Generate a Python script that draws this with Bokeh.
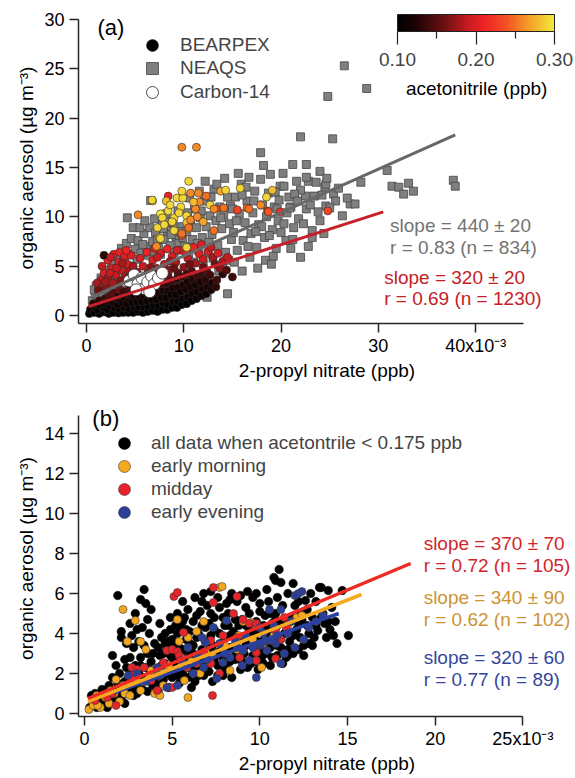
from bokeh.plotting import figure
from bokeh.layouts import column
from bokeh.models import (ColumnDataSource, LinearColorMapper, ColorBar, FixedTicker,
                          PrintfTickFormatter, Label, Legend, LegendItem)
from bokeh.embed import file_html
from bokeh.resources import INLINE

FONT = "Liberation Sans"

# ---------------- Panel (a) data (x in 10^-3 ppb, y in ug m-3, acetonitrile ppb) ----------------
bearpex_dark = [
    (0.3,0.2,.10),(0.4,0.6,.11),(0.8,0.3,.10),(0.9,0.8,.11),(0.7,1.2,.13),
    (1.3,0.2,.10),(1.2,0.6,.10),(1.4,1.0,.11),(1.3,1.5,.13),
    (1.8,0.35,.10),(1.9,0.7,.11),(1.7,1.2,.12),(1.9,1.7,.14),
    (2.3,0.2,.10),(2.2,0.6,.10),(2.4,1.0,.11),(2.3,1.5,.12),(2.4,2.0,.15),
    (2.8,0.3,.10),(2.9,0.8,.11),(2.7,1.3,.12),(2.9,1.8,.13),(2.8,2.3,.15),
    (3.3,0.25,.10),(3.4,0.6,.10),(3.2,1.1,.11),(3.4,1.6,.12),(3.3,2.1,.13),(3.4,2.6,.16),
    (3.8,0.3,.10),(3.9,0.8,.11),(3.7,1.3,.11),(3.9,1.8,.12),(3.8,2.4,.14),
    (4.3,0.3,.10),(4.4,0.7,.10),(4.2,1.2,.11),(4.4,1.7,.12),(4.3,2.2,.13),(4.4,2.8,.15),
    (4.8,0.3,.10),(4.9,0.8,.11),(4.7,1.3,.11),(4.9,1.9,.12),(4.8,2.5,.13),(4.9,3.1,.16),
    (5.3,0.4,.10),(5.4,0.9,.10),(5.2,1.4,.11),(5.4,2.0,.12),(5.3,2.6,.14),
    (5.8,0.3,.10),(5.9,0.8,.11),(5.7,1.4,.11),(5.9,2.0,.12),(5.8,2.7,.13),(5.9,3.3,.15),
    (6.3,0.4,.10),(6.4,0.9,.10),(6.2,1.5,.11),(6.4,2.1,.12),(6.3,2.8,.13),(6.4,3.5,.16),
    (6.8,0.5,.10),(6.9,1.0,.11),(6.7,1.6,.11),(6.9,2.2,.12),(6.8,2.9,.14),
    (7.3,0.4,.10),(7.4,1.0,.10),(7.2,1.6,.11),(7.4,2.3,.12),(7.3,3.0,.13),(7.4,3.7,.15),
    (7.8,0.6,.10),(7.9,1.2,.11),(7.7,1.8,.11),(7.9,2.5,.12),(7.8,3.2,.14),
    (8.3,0.6,.10),(8.4,1.1,.10),(8.2,1.8,.11),(8.4,2.5,.12),(8.3,3.3,.13),(8.4,4.0,.16),
    (8.8,0.8,.10),(8.9,1.4,.11),(8.7,2.1,.11),(8.9,2.8,.12),(8.8,3.5,.14),
    (9.3,0.8,.10),(9.4,1.4,.10),(9.2,2.1,.11),(9.4,2.9,.12),(9.3,3.7,.13),(9.4,4.3,.15),
    (9.8,1.1,.10),(9.9,1.7,.11),(9.7,2.4,.11),(9.9,3.1,.12),(9.8,3.9,.14),
    (10.3,1.2,.10),(10.4,1.9,.11),(10.2,2.6,.12),(10.4,3.4,.12),(10.3,4.2,.14),
    (10.8,1.5,.10),(10.9,2.2,.11),(10.7,2.9,.12),(10.9,3.7,.13),(10.8,4.5,.15),
    (11.3,1.7,.11),(11.4,2.4,.11),(11.2,3.1,.12),(11.4,3.9,.14),
    (11.8,2.0,.11),(11.9,2.7,.12),(11.7,3.4,.12),(11.9,4.2,.14),
    (12.3,2.2,.11),(12.4,2.9,.12),(12.2,3.6,.13),(12.4,4.4,.15),
    (12.8,2.6,.12),(12.9,3.3,.12),(12.7,4.1,.14),
    (13.3,2.9,.13),(13.4,3.6,.14),(15.0,3.9,.14),(14.0,4.2,.13),
]
bearpex_red = [
    (1.5,3.6,.19),(1.8,4.3,.20),(2.2,3.8,.18),(2.6,4.8,.20),(3.0,4.1,.19),(3.3,5.4,.20),
    (2.2,5.6,.21),(3.6,4.6,.19),(4.0,3.9,.18),(2.8,6.2,.20),(3.4,6.4,.21),(1.6,5.0,.19),
    (4.2,5.2,.20),(3.9,6.0,.20),(2.0,2.9,.17),(2.7,3.3,.18),(1.8,6.1,.13),(1.2,2.6,.16),
    (1.1,3.3,.18),(2.5,5.9,.19),(3.1,4.8,.19),(3.7,5.3,.18),(4.4,4.5,.18),(2.4,4.3,.19),
    (3.5,3.5,.17),(1.9,3.4,.18),(4.6,6.1,.20),(4.1,6.6,.21),
    (5.2,4.4,.18),(5.8,5.0,.19),(6.3,4.3,.17),(6.8,5.6,.20),(7.2,4.8,.18),(7.6,6.3,.20),
    (8.0,5.2,.19),(8.5,4.6,.17),(8.8,6.0,.20),(9.2,5.4,.18),(9.6,6.6,.21),(10.0,4.9,.17),
    (10.4,5.8,.19),(10.8,6.8,.21),(11.2,5.3,.18),(11.6,6.2,.20),(12.0,5.7,.19),(12.5,6.5,.20),
    (13.0,5.9,.18),(13.5,6.3,.20),(14.0,5.5,.18),(13.7,4.8,.17),(14.5,5.9,.19),(8.3,6.75,.21),
    (9.3,6.6,.20),(11.0,6.9,.21),(5.5,5.8,.20),(6.2,6.4,.21),(7.0,6.8,.20),(4.8,5.0,.18),
    (6.0,3.7,.16),(7.6,4.1,.16),(9.0,4.8,.16),(10.6,5.2,.16),(12.0,4.9,.16),(13.2,5.2,.16),
    (14.4,4.6,.15),(12.8,6.9,.19),(10.2,6.3,.20),(8.6,5.5,.18),(7.3,5.9,.19),(5.4,3.9,.16),
    (6.6,4.9,.17),(11.8,7.2,.20),
]
bearpex_hot = [
    (9.8,17.05,.26),(11.3,17.05,.26),(10.5,13.6,.29),(8.4,12.1,.21),(6.8,11.6,.29),(5.3,10.2,.26),
    (8.2,11.6,.28),(9.3,11.9,.29),(9.9,11.9,.29),(10.7,12.4,.26),(11.5,12.4,.26),(12.3,12.1,.25),
    (11.6,11.5,.26),(12.7,11.2,.29),(13.8,12.6,.27),(14.3,12.7,.29),(15.8,12.9,.29),(19.1,12.7,.28),
    (18.5,12.0,.29),(17.9,11.2,.26),(16.5,10.9,.25),(15.5,10.7,.23),(14.1,10.9,.25),(13.3,10.8,.24),
    (11.2,10.8,.26),(11.0,11.5,.28),(9.7,11.0,.29),(8.4,10.6,.29),(7.6,10.3,.30),(7.8,9.9,.29),
    (9.0,9.9,.29),(8.8,9.5,.29),(10.3,10.1,.29),(10.3,9.4,.28),(10.5,8.8,.29),(10.7,9.7,.26),
    (11.4,10.0,.26),(7.3,8.9,.29),(9.0,8.6,.29),(9.8,8.1,.24),(7.5,7.9,.28),(7.2,7.0,.26),
    (10.3,6.9,.29),(13.1,8.6,.25),(18.6,10.6,.22),(19.9,10.5,.22),(18.7,10.5,.24),(24.8,10.6,.23),
    (16.7,10.8,.25),(13.1,10.8,.26),(9.8,12.6,.29),(9.8,8.3,.25),(10.5,8.9,.25),(7.6,7.8,.29),
    (6.75,11.7,.29),(8.0,9.2,.29),(9.5,10.4,.29),(8.6,11.2,.29),(12.0,9.5,.27),
]
neaqs = [
    (0.6,1.5),(0.9,2.2),(1.2,1.7),(1.4,2.7),(1.7,2.1),(1.9,3.3),(2.2,2.6),(2.4,3.8),(2.7,2.9),
    (2.9,4.4),(3.2,3.4),(3.4,5.0),(3.7,3.9),(3.9,5.6),(4.2,4.4),(4.4,6.2),(4.7,5.0),(1.0,3.0),
    (2.0,4.6),(3.0,5.9),(3.6,6.8),(4.1,7.3),(4.6,7.8),(4.2,9.9),(4.8,8.9),(1.5,3.8),(2.6,5.3),
    (0.8,2.6),(2.3,1.8),(3.5,2.6),
    (5.0,6.7),(5.3,7.6),(5.6,6.3),(5.9,8.3),(6.2,7.0),(6.5,8.9),(6.6,11.65),(6.8,7.5),(7.1,8.4),
    (7.4,6.8),(7.7,9.2),(8.0,7.7),(8.3,8.6),(8.6,7.1),(8.9,9.4),(9.2,8.0),(9.5,7.3),(9.8,9.0),
    (5.5,8.9),(6.0,9.6),(7.0,9.8),(8.2,10.3),(9.4,10.6),(5.2,5.7),(6.4,6.1),(7.6,6.2),(9.0,6.4),
    (9.9,7.9),(5.8,7.2),(7.3,7.7),(8.7,8.2),(6.9,6.5),(8.4,9.5),(9.6,8.5),(7.9,8.8),
    (10.1,7.0),(10.3,8.5),(10.5,6.2),(10.7,9.6),(10.9,7.7),(11.1,10.8),(11.3,8.9),(11.5,6.6),
    (11.7,9.9),(11.9,7.9),(12.1,11.6),(12.3,9.0),(12.5,6.3),(12.7,10.1),(12.9,8.2),(13.1,12.8),
    (13.3,9.6),(13.5,7.1),(13.7,11.0),(13.9,8.8),(14.1,10.2),(14.3,6.4),(14.5,12.0),(14.7,9.3),
    (14.9,7.7),(12.2,13.6),(13.4,13.3),(14.2,13.9),(14.8,11.1),(10.6,11.9),(11.6,12.6),(12.4,1.85),
    (14.5,2.2),(11.0,5.4),(12.0,5.2),(13.0,5.8),(14.0,5.0),(14.6,5.6),(13.6,4.5),(10.4,10.4),
    (11.8,10.6),(12.8,12.0),(13.8,9.9),(12.6,7.4),(11.4,7.3),
    (15.1,8.4),(15.3,12.0),(15.5,6.6),(15.7,10.3),(15.9,13.3),(16.1,7.6),(16.3,9.4),(16.5,11.6),
    (16.7,14.0),(16.9,8.3),(17.1,10.4),(17.3,12.6),(17.5,6.9),(17.7,9.2),(17.9,13.8),(18.1,11.2),
    (18.3,7.9),(18.5,10.0),(18.7,12.4),(18.9,14.3),(19.1,8.7),(19.3,11.0),(19.5,6.8),(19.7,9.6),
    (19.9,13.1),(15.2,5.4),(16.0,4.5),(16.8,5.9),(17.6,4.8),(18.4,5.6),(19.2,6.0),(15.6,14.4),
    (16.4,13.0),(17.9,16.5),(18.2,15.2),(19.4,12.5),(15.0,10.8),(16.0,12.2),(17.2,11.6),(18.0,9.0),
    (18.8,8.1),(19.6,10.8),(15.4,9.6),(16.6,7.0),(17.4,8.5),
    (20.3,13.1),(19.8,11.7),(22.5,12.1),(23.4,12.1),(25.4,12.3),(25.6,11.6),(27.1,11.3),(27.6,11.3),
    (26.3,10.1),(24.5,13.0),(22.0,12.7),(21.0,11.0),(20.3,9.3),(21.3,8.9),(21.0,6.8),(22.0,5.9),
    (23.2,8.6),(23.2,7.9),(24.6,11.1),(28.2,13.5),(24.6,13.3),(20.6,10.4),(21.8,9.8),(22.6,10.8),
    (24.0,9.6),(20.8,12.0),(20.5,7.6),(21.6,13.6),(23.0,11.2),(20.2,14.4),(22.8,13.6),(21.4,12.3),
    (20.9,10.9),(21.7,11.6),(22.3,9.3),(23.8,10.5),(24.2,12.2),(25.0,10.9),(25.9,12.9),(26.8,11.9),
    (23.6,13.5),(21.2,7.7),(22.8,7.0),(20.0,8.4),(19.0,5.2),(24.4,8.3),
    (26.5,25.3),(28.8,23.0),(24.8,22.2),(22.0,18.1),(25.3,17.9),(21.2,15.3),(22.6,15.3),(22.6,14.0),
    (24.0,14.6),(24.7,13.9),(30.9,14.7),(31.4,13.1),(32.1,13.0),(32.6,12.3),(33.1,13.4),(33.6,12.6),
    (37.7,13.7),(37.9,13.1),
]
carbon14 = [(4.4,3.5),(4.9,4.1),(5.3,3.2),(5.7,3.8),(6.0,2.7),(6.3,3.4),(6.7,4.0),(7.0,3.2),
            (7.4,3.8),(5.1,2.6),(6.5,2.4),(7.8,4.3)]
fit_neaqs_x, fit_neaqs_y = [0.8, 37.9], [2.0, 18.3]
fit_bearpex_x, fit_bearpex_y = [0.2, 30.5], [0.9, 10.5]
xticks_a = [0, 10, 20, 30, 40]
yticks_a = [0, 5, 10, 15, 20, 25, 30]
cbar_ticks = [0.10, 0.20, 0.30]
cbar_minor = [0.15, 0.25]

# ---------------- Panel (b) data ----------------
all_low = [
    (0.3,0.3),(0.5,0.6),(0.7,0.3),(0.6,1.0),(0.9,0.7),(1.0,1.2),(0.4,0.9),
    (1.2,0.5),(1.3,0.9),(1.4,1.4),(1.5,0.7),(1.6,1.8),(1.7,1.1),(1.8,2.4),(1.9,0.8),(1.9,1.5),
    (2.0,2.0),(1.9,5.9),(2.1,4.1),(2.1,3.8),(1.6,2.9),
    (2.2,1.0),(2.3,1.6),(2.4,2.3),(2.5,1.3),(2.6,2.8),(2.7,1.9),(2.8,0.9),(2.8,3.3),(2.9,2.4),
    (3.0,1.5),(2.6,4.5),(2.9,5.0),(3.0,4.2),(2.4,3.5),(2.7,3.9),
    (3.1,2.0),(3.2,2.8),(3.3,1.2),(3.4,3.4),(3.5,2.3),(3.5,1.7),(3.6,3.0),(3.7,4.0),(3.8,2.6),
    (3.9,1.4),(3.4,6.2),(3.5,5.5),(3.6,4.7),(3.8,5.2),(3.2,5.7),(4.0,3.5),(3.3,4.3),
    (4.1,2.2),(4.2,1.1),(4.3,2.9),(4.4,3.8),(4.5,1.7),(4.6,2.5),(4.7,3.3),(4.8,1.3),(4.9,4.2),
    (5.0,2.8),(4.3,4.5),(4.6,4.0),(4.8,3.6),(4.2,3.3),(4.7,2.0),(5.0,1.8),
    (5.1,3.4),(5.2,2.2),(5.3,4.0),(5.4,1.5),(5.5,3.0),(5.6,4.6),(5.7,2.5),(5.8,3.7),(5.9,1.8),
    (6.0,2.9),(5.6,5.6),(5.9,5.2),(5.3,5.0),(5.5,4.3),(5.2,2.8),(5.8,4.2),(6.0,3.5),
    (6.1,2.2),(6.2,4.6),(6.3,1.6),(6.4,3.8),(6.5,2.6),(6.6,5.1),(6.7,3.2),(6.8,1.9),(6.9,4.3),
    (7.0,2.8),(6.3,5.8),(6.8,6.0),(6.5,4.0),(6.2,3.0),(6.9,3.6),(6.6,2.3),(7.0,5.4),
    (7.1,2.1),(7.2,3.9),(7.3,1.6),(7.4,4.8),(7.5,3.0),(7.6,2.4),(7.7,5.3),(7.8,3.5),(7.9,1.9),
    (8.0,4.4),(7.2,6.1),(7.6,5.8),(7.4,4.2),(7.9,2.8),(7.1,4.5),(7.7,4.0),
    (8.1,2.3),(8.2,5.0),(8.3,3.3),(8.4,1.8),(8.5,4.1),(8.6,2.7),(8.7,5.6),(8.8,3.7),(8.9,2.2),
    (9.0,4.7),(8.4,6.0),(8.9,5.9),(8.2,4.4),(8.6,3.1),(8.8,4.4),(8.3,5.7),
    (9.1,3.0),(9.2,5.3),(9.3,2.3),(9.4,4.1),(9.5,3.5),(9.6,5.8),(9.7,2.6),(9.8,4.6),(9.9,3.2),
    (10.0,5.1),(9.3,6.1),(9.8,6.0),(9.5,4.5),(9.1,3.8),(9.7,3.9),(9.9,2.2),
    (10.1,3.6),(10.2,2.5),(10.3,4.9),(10.4,3.0),(10.5,5.6),(10.6,4.2),(10.7,2.8),(10.8,6.8),
    (10.8,3.6),(10.9,5.0),(11.0,4.4),(10.4,6.2),(10.2,4.4),(10.6,3.3),(11.0,2.9),
    (11.1,7.2),(10.9,6.65),(11.2,6.55),(11.2,3.3),(11.3,5.4),(11.4,4.0),(11.5,2.8),(11.6,6.0),
    (11.7,3.6),(11.8,4.8),(11.9,3.0),(12.0,5.4),(11.5,4.5),(11.9,6.5),(11.3,2.5),
    (12.1,4.2),(12.2,3.2),(12.3,5.0),(12.5,2.9),(12.6,5.65),(12.7,4.4),(12.8,3.5),(12.9,6.0),
    (13.0,4.8),(12.4,4.7),(13.0,3.4),
    (13.3,4.15),(13.4,6.3),(13.5,6.3),(13.6,5.0),(13.8,3.8),(13.9,6.15),(14.0,4.2),(14.1,5.3),
    (14.3,4.6),(14.7,6.15),(14.4,3.5),(15.05,3.9),(13.2,5.6),
    (1.1,0.4),(1.5,1.2),(2.1,0.8),(2.5,1.8),(3.0,1.0),(3.2,2.4),(3.6,1.1),(4.0,1.6),(4.4,2.4),
    (4.9,2.9),(5.3,1.9),(5.7,3.2),(6.1,1.3),(6.4,2.4),(6.7,4.4),(7.0,2.4),(7.3,3.4),(7.6,1.9),
    (8.0,2.3),(8.3,3.9),(8.7,3.3),(9.0,2.6),(9.2,4.4),(9.6,2.9),(9.9,4.2),(10.2,3.2),(10.6,2.4),
    (10.9,4.7),(11.2,3.8),(11.6,3.2),(12.0,4.0),(12.3,3.8),(12.7,5.2),(13.2,4.4),(13.7,4.5),
    (6.0,4.1),(5.0,3.7),(4.5,3.0),(3.9,3.0),(2.3,2.7),(8.1,5.5),(9.4,5.0),(10.6,5.0),(7.9,4.8),
    (6.7,5.6),(5.2,4.4),
    (0.8,0.5),(1.1,0.9),(1.3,0.3),(1.7,0.6),(2.0,1.2),(2.3,0.5),(2.6,2.2),(2.9,1.2),(3.3,1.8),
    (3.7,2.2),(3.9,2.0),(4.3,1.4),(4.6,3.5),(5.1,2.5),(5.4,3.3),(5.6,2.0),(5.9,2.6),(6.2,3.4),
    (6.5,1.9),(6.8,2.6),(7.1,3.2),(7.4,2.7),(7.7,3.1),(8.0,3.8),(8.3,2.6),(8.6,4.7),(8.9,3.0),
    (9.2,3.4),(9.5,2.5),(9.8,3.6),(10.1,2.8),(10.4,4.0),(10.7,4.5),(11.0,3.4),(11.3,4.6),
    (11.6,2.9),(11.9,3.9),(12.2,4.5),(12.5,3.4),(12.8,4.0),(13.1,3.8),(13.5,4.8),(13.9,4.6),
    (14.2,3.9),(6.4,4.9),(7.2,5.0),(5.7,4.8),(4.9,4.8),(3.1,3.6),(10.0,5.5),(11.0,5.8),(12.2,5.6),
]
early_morning = [
    (0.25,0.2),(0.5,0.4),(0.9,0.3),(1.2,0.8),(1.4,0.5),(1.7,1.0),(2.0,0.6),(2.3,1.0),(0.7,0.9),
    (2.2,5.2),(2.9,4.65),(2.45,3.6),(3.2,3.6),(3.5,3.2),(3.8,2.15),(2.6,1.5),(3.2,1.15),(4.0,1.0),
    (4.3,0.9),(5.3,4.7),(5.4,3.6),(5.9,3.8),(5.7,1.65),(5.9,0.8),(6.4,4.1),(6.6,2.0),(7.7,6.3),
    (6.8,4.6),(8.7,3.2),(8.3,2.15),(10.1,2.3),(10.2,3.5),(9.05,4.6),(0.75,0.4),(1.5,1.15),
    (2.6,0.9),(4.5,1.4),(4.8,2.4),(5.5,2.8),(6.1,2.6),(6.9,3.1),(7.3,2.9),(8.0,3.4),(8.8,3.9),
    (9.6,3.7),(10.8,3.9),(11.6,4.4),(12.1,4.8),(4.2,2.2),(3.7,1.8),(3.0,1.6),(2.2,1.4),(1.8,1.7),
    (12.4,4.9),(7.85,6.35),(9.5,4.55),
]
midday = [
    (5.1,5.85),(5.3,6.05),(7.35,6.3),(7.35,5.55),(8.7,5.85),(8.5,5.0),(5.65,4.05),(7.2,3.65),
    (7.9,3.9),(9.05,4.7),(9.4,4.5),(10.6,3.65),(9.8,2.65),(7.3,0.9),(2.7,2.3),(3.0,2.2),(3.4,2.3),
    (2.8,1.9),(3.8,1.65),(4.15,1.15),(4.7,3.15),(5.0,3.2),(5.3,3.1),(5.4,2.9),(5.5,2.65),
    (5.85,2.3),(4.5,2.55),(5.0,1.3),(6.4,2.5),(6.8,3.05),(7.2,2.5),(7.7,2.0),(8.7,3.8),(8.85,2.8),
    (9.8,3.05),(10.9,2.75),(11.5,4.3),(11.4,4.8),(1.3,0.8),(1.6,1.0),(1.8,0.4),(0.6,0.65),
    (9.8,4.5),(11.2,3.7),(10.9,4.15),
]
early_evening = [
    (7.35,4.3),(6.9,3.55),(8.1,4.65),(7.9,2.55),(7.55,1.75),(8.7,3.3),(9.4,2.65),(9.8,1.8),
    (10.55,5.2),(11.2,5.2),(10.9,3.5),(10.4,3.15),(11.4,3.0),(5.3,1.4),(4.7,1.3),(3.0,2.0),
    (4.15,2.3),(5.65,2.5),(6.4,2.9),(6.8,2.3),(8.3,2.8),(9.05,3.15),
    (12.0,5.9),(12.4,6.1),(12.5,3.7),(12.0,3.3),(10.2,4.0),(10.7,3.65),(10.0,3.4),(12.2,6.0),
    (8.6,3.6),(9.2,3.9),(9.6,3.3),(10.0,4.3),(10.3,3.6),(10.8,4.4),(11.0,3.9),(11.6,4.0),
    (11.8,4.6),(12.8,4.3),(13.2,4.6),(13.6,4.9),(9.0,2.4),(8.0,3.0),(7.0,2.7),(6.2,2.0),
    (5.9,3.3),(6.7,3.8),(7.7,3.5),(11.2,2.5),(2.5,1.9),(3.5,1.6),(4.3,1.9),
]
fit_midday_x, fit_midday_y = [0.2, 18.6], [0.75, 7.5]
fit_morning_x, fit_morning_y = [0.2, 15.8], [0.6, 5.95]
fit_evening_x, fit_evening_y = [1.7, 14.5], [1.05, 5.0]
xticks_b = [0, 5, 10, 15, 20, 25]
yticks_b = [0, 2, 4, 6, 8, 10, 12, 14]

# ---------------- colour map (black -> red -> yellow) ----------------
anchors = [(0.0, (0, 0, 0)), (0.12, (30, 4, 4)), (0.3, (110, 16, 18)), (0.45, (200, 28, 32)),
           (0.55, (238, 34, 36)), (0.7, (242, 84, 34)), (0.85, (245, 165, 40)), (1.0, (240, 235, 60))]
palette = []
for i in range(256):
    t = i / 255
    for (t0, c0), (t1, c1) in zip(anchors[:-1], anchors[1:]):
        if t0 <= t <= t1:
            f = (t - t0) / (t1 - t0)
            c = tuple(int(round(a + (b - a) * f)) for a, b in zip(c0, c1))
            break
    palette.append("#%02x%02x%02x" % c)
mapper = LinearColorMapper(palette=palette, low=0.10, high=0.30)


def style_axes(p, xticks, yticks, xover, xb, yb):
    p.xgrid.visible = False
    p.ygrid.visible = False
    p.outline_line_color = None
    p.background_fill_color = "white"
    for ax in (p.xaxis[0], p.yaxis[0]):
        ax.axis_line_color = "#262626"
        ax.axis_line_width = 1.5
        ax.major_tick_line_color = "#262626"
        ax.major_tick_line_width = 1.5
        ax.major_tick_out = 9
        ax.major_tick_in = 0
        ax.minor_tick_out = 0
        ax.minor_tick_in = 0
        ax.major_label_text_font = FONT
        ax.major_label_text_font_size = "18px"
        ax.major_label_text_color = "black"
        ax.major_label_standoff = 3
        ax.axis_label_text_font = FONT
        ax.axis_label_text_font_size = "19px"
        ax.axis_label_text_font_style = "normal"
        ax.axis_label_text_color = "black"
        ax.axis_label_standoff = 1
    p.yaxis.axis_label_standoff = 4
    p.yaxis.major_label_standoff = 5
    p.xaxis.ticker = FixedTicker(ticks=xticks)
    p.yaxis.ticker = FixedTicker(ticks=yticks)
    p.xaxis.major_label_overrides = xover
    p.xaxis.bounds = xb
    p.yaxis.bounds = yb
    p.xaxis.axis_label = "2-propyl nitrate (ppb)"
    p.yaxis.axis_label = "organic aerosol (\u00b5g m\u207b\u00b3)"


def lbl(p, x, y, text, color, size="19px", align="left"):
    p.add_layout(Label(x=x, y=y, text=text, text_color=color, text_font=FONT,
                       text_font_size=size, text_baseline="middle", text_align=align))


def legend_row(p, label, renderer, vx, vy, standoff):
    p.add_layout(Legend(items=[LegendItem(label=label, renderers=[renderer], index=0)],
                        location=(vx, vy), glyph_width=30, glyph_height=30, padding=0, margin=0,
                        spacing=0, label_standoff=standoff, label_text_font=FONT,
                        label_text_font_size="19px", border_line_color=None,
                        background_fill_alpha=0))


# ================= Panel (a) =================
p1 = figure(width=575, height=385, x_range=(-0.82, 50.26), y_range=(-0.81, 30.7),
            output_backend="svg", toolbar_location=None, title=None,
            min_border_left=78, min_border_right=0, min_border_top=12, min_border_bottom=62)
style_axes(p1, xticks_a, yticks_a, {40: "40x10\u207b\u00b3"}, (-0.82, 44.9), (-0.81, 30))

src_neaqs = ColumnDataSource(dict(x=[a for a, b in neaqs], y=[b for a, b in neaqs]))
bp = bearpex_dark + bearpex_red + bearpex_hot
src_bp = ColumnDataSource(dict(x=[r[0] for r in bp], y=[r[1] for r in bp], an=[r[2] for r in bp]))
src_c14 = ColumnDataSource(dict(x=[a for a, b in carbon14], y=[b for a, b in carbon14]))

r_neaqs = p1.scatter("x", "y", source=src_neaqs, marker="square", size=8,
                     fill_color="#7f7f7f", line_color="#454545", line_width=0.8)
r_bp = p1.scatter("x", "y", source=src_bp, marker="circle", size=8,
                  fill_color={"field": "an", "transform": mapper}, line_color="#2a2a2a", line_width=0.6)
r_c14 = p1.scatter("x", "y", source=src_c14, marker="circle", size=12,
                   fill_color="white", line_color="#222222", line_width=0.8)
p1.line(fit_neaqs_x, fit_neaqs_y, line_color="#676767", line_width=3)
p1.line(fit_bearpex_x, fit_bearpex_y, line_color="#c8202a", line_width=3)

legend_row(p1, "BEARPEX", r_bp, 59, 263, 13)
legend_row(p1, "NEAQS", r_neaqs, 59, 240, 13)
legend_row(p1, "Carbon-14", r_c14, 59, 216, 13)

cbar = ColorBar(color_mapper=mapper, orientation="horizontal", width=157, height=17,
                location=(319, 255), ticker=FixedTicker(ticks=cbar_ticks, minor_ticks=cbar_minor),
                formatter=PrintfTickFormatter(format="%.2f"),
                major_tick_out=13, major_tick_in=0, minor_tick_out=7, minor_tick_in=0,
                major_tick_line_color="#222222", minor_tick_line_color="#222222",
                major_tick_line_width=1.2, minor_tick_line_width=1.2,
                major_label_text_font=FONT, major_label_text_font_size="19px",
                label_standoff=8, bar_line_color="#222222", bar_line_width=1,
                background_fill_alpha=0, border_line_color=None, padding=0, margin=0)
p1.add_layout(cbar)

lbl(p1, 40.1, 23.0, "acetonitrile (ppb)", "black", align="center")
lbl(p1, 1.13, 29.2, "(a)", "black", size="22px")
lbl(p1, 31.2, 9.1, "slope = 440 \u00b1 20", "#737373")
lbl(p1, 31.2, 6.9, "r = 0.83 (n = 834)", "#737373")
lbl(p1, 30.6, 3.85, "slope = 320 \u00b1 20", "#c42127")
lbl(p1, 30.6, 1.72, "r = 0.69 (n = 1230)", "#c42127")

# ================= Panel (b) =================
p2 = figure(width=575, height=393, x_range=(-0.34, 28.0), y_range=(-0.15, 15.65),
            output_backend="svg", toolbar_location=None, title=None,
            min_border_left=74, min_border_right=0, min_border_top=15, min_border_bottom=62)
style_axes(p2, xticks_b, yticks_b, {25: "25x10\u207b\u00b3"}, (-0.34, 25), (-0.15, 14.9))


def src(pts):
    return ColumnDataSource(dict(x=[a for a, b in pts], y=[b for a, b in pts]))


r_all = p2.scatter("x", "y", source=src(all_low), marker="circle", size=8.5,
                   fill_color="black", line_color="black", line_width=0.5)
r_morn = p2.scatter("x", "y", source=src(early_morning), marker="circle", size=8,
                    fill_color="#f5a81e", line_color="#3a3a3a", line_width=0.6)
r_mid = p2.scatter("x", "y", source=src(midday), marker="circle", size=8,
                   fill_color="#e8232a", line_color="#3a3a3a", line_width=0.6)
r_eve = p2.scatter("x", "y", source=src(early_evening), marker="circle", size=8,
                   fill_color="#2c3f98", line_color="#3a3a3a", line_width=0.6)
p2.line(fit_evening_x, fit_evening_y, line_color="#2b40a0", line_width=3.5)
p2.line(fit_morning_x, fit_morning_y, line_color="#f5aa22", line_width=3.5)
p2.line(fit_midday_x, fit_midday_y, line_color="#ee2a24", line_width=3.5)

legend_row(p2, "all data when acetontrile < 0.175 ppb", r_all, 31, 258, 12)
legend_row(p2, "early morning", r_morn, 31, 235, 12)
legend_row(p2, "midday", r_mid, 31, 212, 12)
legend_row(p2, "early evening", r_eve, 31, 189, 12)

lbl(p2, 0.45, 14.75, "(b)", "black", size="22px")
lbl(p2, 19.34, 8.5, "slope = 370 \u00b1 70", "#d0262b")
lbl(p2, 19.34, 7.4, "r = 0.72 (n = 105)", "#d0262b")
lbl(p2, 19.34, 5.8, "slope = 340 \u00b1 90", "#cc9433")
lbl(p2, 19.34, 4.7, "r = 0.62 (n = 102)", "#cc9433")
lbl(p2, 19.34, 2.8, "slope = 320 \u00b1 60", "#34479c")
lbl(p2, 19.34, 1.7, "r = 0.77 (n = 89)", "#34479c")

layout = column(p1, p2, spacing=0)
open("out.html", "w").write(file_html(layout, INLINE))
